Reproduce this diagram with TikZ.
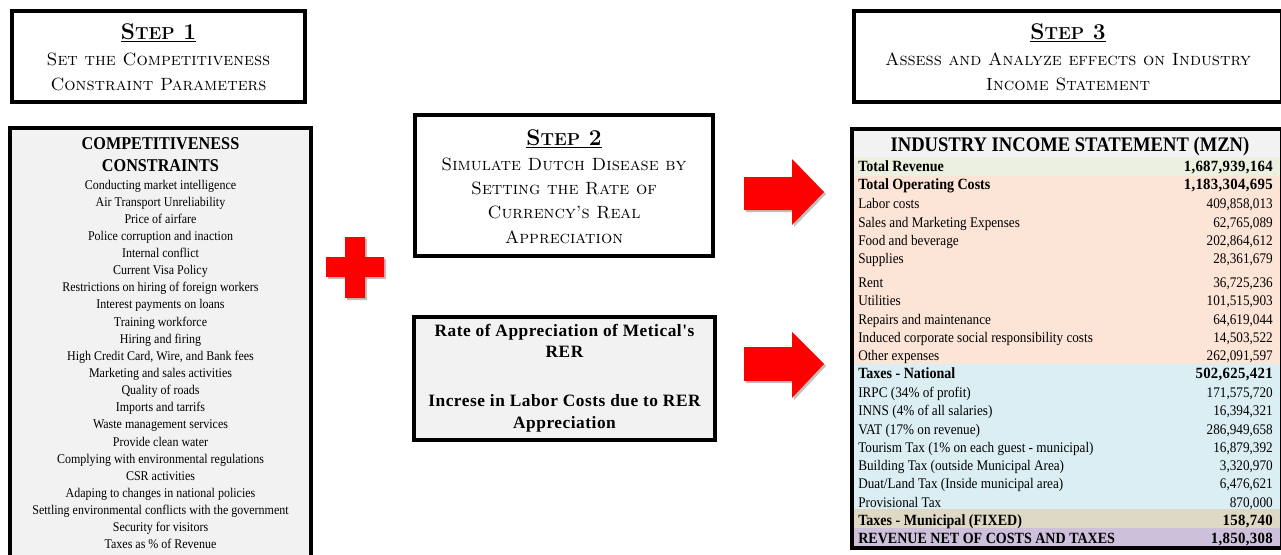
\documentclass[tikz,border=0pt]{standalone}
\usepackage{fontspec}
\usetikzlibrary{shadows}
\newfontfamily\tnr[FakeStretch=0.9]{Liberation Serif}
\newfontfamily\tnrwide[LetterSpace=3]{Liberation Serif}
\newfontfamily\tnrnum[FakeStretch=0.95,LetterSpace=2]{Liberation Serif}

\definecolor{panelgrey}{HTML}{F2F2F2}
\definecolor{rowhead}{HTML}{F2F2F2}
\definecolor{rowgreen}{HTML}{EBF1DE}
\definecolor{rowpeach}{HTML}{FCE4D6}
\definecolor{rowblue}{HTML}{DAEEF3}
\definecolor{rowtan}{HTML}{DDD9C4}
\definecolor{rowlilac}{HTML}{CCC0DA}
\definecolor{signred}{HTML}{FF0000}

% header of a step box: bold fake small caps, underlined
\newcommand\stepname[1]{\underline{\bfseries S{\fontsize{13}{15}\selectfont TEP} #1}}
% one line of the income statement: name, y, label, value, label style, value style
\newcommand\incrow[6]{%
  \node[rowlabel,#5] (#1l) at (858,#2+4.5) {#3};
  \node[rowvalue,#6] (#1v) at (1273,#2+4.5) {#4};}

\tikzset{
  shade/.style={drop shadow={shadow xshift=1.5pt,shadow yshift=-1.5pt,opacity=0.35,fill=black!70}},
  frame/.style={draw=black,line width=3pt,shade},
  steptitle/.style={font=\fontsize{17}{20}\selectfont,inner sep=0pt,anchor=base},
  stepline/.style={font=\fontsize{13.3}{16}\selectfont,inner sep=0pt,anchor=base},
  listhead/.style={font=\tnr\bfseries\fontsize{13.5}{16.5}\selectfont,inner sep=0pt,anchor=base},
  listitem/.style={font=\tnr\fontsize{10}{12}\selectfont,inner sep=0pt,anchor=base},
  ratetext/.style={font=\tnrwide\bfseries\fontsize{13}{16}\selectfont,inner sep=0pt,anchor=base,align=center},
  rowlabel/.style={font=\tnr\fontsize{11}{13}\selectfont,inner sep=0pt,anchor=base west},
  rowvalue/.style={font=\tnr\fontsize{11}{13}\selectfont,inner sep=0pt,anchor=base east},
  strong/.style={font=\tnr\bfseries\fontsize{11.7}{13}\selectfont},
  strongnum/.style={font=\tnrnum\bfseries\fontsize{11.7}{13}\selectfont},
  redshape/.style={fill=signred,shade},
}

\begin{document}
\begin{tikzpicture}[x=0.75pt,y=-0.75pt]
\useasboundingbox (0,0) rectangle (1281,554);
\clip (0,0) rectangle (1281,554);
\fill[white] (0,0) rectangle (1281,554);

% ---------- Step 1 ----------
\draw[frame,fill=white] (12,11) rectangle (305,102);
\node[steptitle] (s1t) at (158.5,39) {\stepname{1}};
\node[stepline] (s1a) at (158.5,65) {\textsc{Set the Competitiveness}};
\node[stepline] (s1b) at (158.5,90) {\textsc{Constraint Parameters}};

% ---------- competitiveness constraints ----------
\draw[frame,fill=panelgrey] (10,128) rectangle (311,600);
\node[listhead] (ch1) at (160.5,149) {COMPETITIVENESS};
\node[listhead] (ch2) at (160.5,171) {CONSTRAINTS};
\foreach \t [count=\i from 0] in {
  Conducting market intelligence,
  Air Transport Unreliability,
  Price of airfare,
  Police corruption and inaction,
  Internal conflict,
  Current Visa Policy,
  Restrictions on hiring of foreign workers,
  Interest payments on loans,
  Training workforce,
  Hiring and firing,
  {High Credit Card, Wire, and Bank fees},
  Marketing and sales activities,
  Quality of roads,
  Imports and tarrifs,
  Waste management services,
  Provide clean water,
  Complying with environmental regulations,
  CSR activities,
  Adaping to changes in national policies,
  Settling environmental conflicts with the government,
  Security for visitors,
  Taxes as \% of Revenue}
  \node[listitem] (c\i) at (160.5,{189+17.14*\i}) {\t};

% ---------- plus sign ----------
\path[redshape] (345,237) -- (365,237) -- (365,257) -- (384,257) -- (384,277)
  -- (365,277) -- (365,298) -- (345,298) -- (345,277) -- (326,277)
  -- (326,257) -- (345,257) -- cycle;

% ---------- Step 2 ----------
\draw[frame,fill=white] (415,115) rectangle (713,256);
\node[steptitle] (s2t) at (564,145) {\stepname{2}};
\node[stepline] (s2a) at (564,170) {\textsc{Simulate Dutch Disease by}};
\node[stepline] (s2b) at (564,194) {\textsc{Setting the Rate of}};
\node[stepline] (s2c) at (564,218) {\textsc{Currency’s Real}};
\node[stepline] (s2d) at (564,243) {\textsc{Appreciation}};

% ---------- rate of appreciation ----------
\draw[frame,fill=panelgrey] (414,317) rectangle (715,440);
\node[ratetext] (r1) at (564.5,336) {Rate of Appreciation of Metical's};
\node[ratetext] (r2) at (564.5,357) {RER};
\node[ratetext] (r3) at (564.5,406) {Increse in Labor Costs due to RER};
\node[ratetext] (r4) at (564.5,428) {Appreciation};

% ---------- arrows ----------
\path[redshape] (744,177) -- (792,177) -- (792,159) -- (824,192) -- (792,225)
  -- (792,210) -- (744,210) -- cycle;
\path[redshape] (744,347) -- (792,347) -- (792,332) -- (824,364) -- (792,398)
  -- (792,381) -- (744,381) -- cycle;

% ---------- Step 3 ----------
\draw[frame,fill=white] (854,11) rectangle (1282,102);
\node[steptitle] (s3t) at (1068,39) {\stepname{3}};
\node[stepline] (s3a) at (1068,65) {\textsc{Assess and Analyze effects on Industry}};
\node[stepline] (s3b) at (1068,90) {\textsc{Income Statement}};

% ---------- income statement ----------
\fill[shade,fill=white] (852,129) rectangle (1282,548);
\fill[rowhead]  (852,129) rectangle (1282,157);
\fill[rowgreen] (852,157) rectangle (1282,176);
\fill[rowpeach] (852,176) rectangle (1282,364);
\fill[rowblue]  (852,364) rectangle (1282,509);
\fill[rowtan]   (852,509) rectangle (1282,528);
\fill[rowlilac] (852,528) rectangle (1282,548);
\draw[black,line width=3pt] (852,129) rectangle (1282,548);
\node[font=\tnr\bfseries\fontsize{15.5}{18}\selectfont,inner sep=0pt,anchor=base] (ist) at (1070,151)
  {INDUSTRY INCOME STATEMENT (MZN)};
\incrow{rev}{167}{Total Revenue}{1,687,939,164}{strong}{strongnum}
\incrow{toc}{185}{Total Operating Costs}{1,183,304,695}{strong}{strongnum}
\incrow{lab}{204}{Labor costs}{409,858,013}{}{}
\incrow{sme}{223}{Sales and Marketing Expenses}{62,765,089}{}{}
\incrow{fab}{241}{Food and beverage}{202,864,612}{}{}
\incrow{sup}{259}{Supplies}{28,361,679}{}{}
\incrow{ren}{283}{Rent}{36,725,236}{}{}
\incrow{uti}{301}{Utilities}{101,515,903}{}{}
\incrow{rep}{320}{Repairs and maintenance}{64,619,044}{}{}
\incrow{csr}{338}{Induced corporate social responsibility costs}{14,503,522}{}{}
\incrow{oth}{356}{Other expenses}{262,091,597}{}{}
\incrow{txn}{374}{Taxes - National}{502,625,421}{strong}{strongnum}
\incrow{irp}{393}{IRPC (34\% of profit)}{171,575,720}{}{}
\incrow{inn}{411}{INNS (4\% of all salaries)}{16,394,321}{}{}
\incrow{vat}{430}{VAT (17\% on revenue)}{286,949,658}{}{}
\incrow{tou}{448}{Tourism Tax (1\% on each guest - municipal)}{16,879,392}{}{}
\incrow{bui}{466}{Building Tax (outside Municipal Area)}{3,320,970}{}{}
\incrow{dua}{484}{Duat/Land Tax (Inside municipal area)}{6,476,621}{}{}
\incrow{pro}{503}{Provisional Tax}{870,000}{}{}
\incrow{txm}{521}{Taxes - Municipal (FIXED)}{158,740}{strong}{strongnum}
\incrow{net}{539}{REVENUE NET OF COSTS AND TAXES}{1,850,308}{strong}{strongnum}
\end{tikzpicture}
\end{document}
